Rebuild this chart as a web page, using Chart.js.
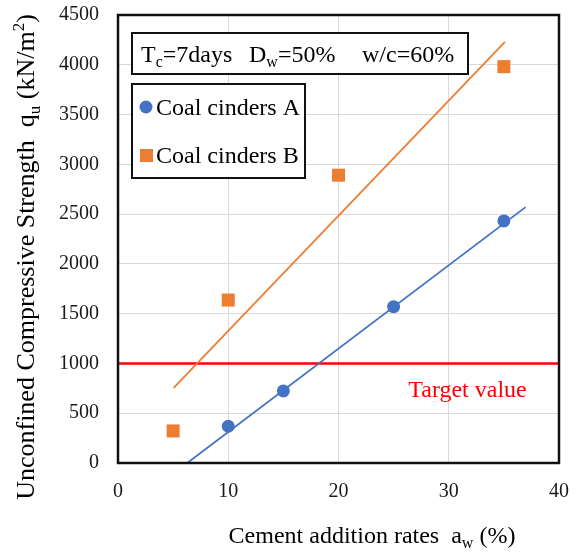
<!DOCTYPE html>
<html>
<head>
<meta charset="utf-8">
<script src="https://cdn.jsdelivr.net/npm/chart.js@4.4.1/dist/chart.umd.min.js"></script>
<style>
  html, body { margin: 0; padding: 0; background: #ffffff; }
  #wrap { width: 577px; height: 556px; position: relative; }
</style>
</head>
<body>
<div id="wrap"><canvas id="chart" width="577" height="556"></canvas></div>
<script>
// Cement addition rate (%) and 7-day unconfined compressive strength (kN/m2)
const ratesA = [10, 15, 25, 35];
const strengthA = [369, 724, 1570, 2432];
const ratesB = [5, 10, 20, 35];
const strengthB = [322, 1637, 2891, 3981];

// Linear trend lines (end points)
const trendAX = [6.28, 36.97];
const trendAY = [0, 2570];
const trendBX = [5.05, 35.1];
const trendBY = [755, 4230];

// Target strength
const targetX = [0, 40];
const targetStrength = 1000;
const targetLabelAt = [31.7, 730];

const xTicks = [0, 10, 20, 30, 40];
const yTicks = [0, 500, 1000, 1500, 2000, 2500, 3000, 3500, 4000, 4500];

const BLUE = '#4472C4';
const ORANGE = '#ED7D31';
const RED = '#FF0000';
const SERIF = '"Liberation Serif", "Times New Roman", serif';

const pts = (xs, ys) => xs.map((x, i) => ({ x: x, y: ys[i] }));

// Draw a run of text pieces, some of which are subscripts or superscripts
function richText(ctx, parts, x, y, size, color, align) {
  ctx.save();
  ctx.fillStyle = color;
  ctx.textBaseline = 'alphabetic';
  ctx.textAlign = 'left';
  const small = Math.round(size * 0.66);
  let total = 0;
  parts.forEach(p => {
    ctx.font = (p.sub || p.sup ? small : size) + 'px ' + SERIF;
    total += ctx.measureText(p.t).width;
  });
  let cx = align === 'center' ? x - total / 2 : x;
  parts.forEach(p => {
    ctx.font = (p.sub || p.sup ? small : size) + 'px ' + SERIF;
    let dy = 0;
    if (p.sub) dy = size * 0.22;
    if (p.sup) dy = -size * 0.38;
    ctx.fillText(p.t, cx, y + dy);
    cx += ctx.measureText(p.t).width;
  });
  ctx.restore();
}

const decorations = {
  id: 'decorations',
  afterDatasetsDraw(chart) {
    const ctx = chart.ctx;
    const a = chart.chartArea;
    const xs = chart.scales.x, ys = chart.scales.y;

    // Target label
    ctx.save();
    ctx.font = '24px ' + SERIF;
    ctx.fillStyle = RED;
    ctx.textAlign = 'center';
    ctx.textBaseline = 'middle';
    ctx.fillText('Target value', xs.getPixelForValue(targetLabelAt[0]), ys.getPixelForValue(targetLabelAt[1]));
    ctx.restore();

    // Plot frame
    ctx.save();
    ctx.strokeStyle = '#111';
    ctx.lineWidth = 2.5;
    ctx.strokeRect(a.left, a.top, a.right - a.left, a.bottom - a.top);
    ctx.restore();

    // Condition box
    ctx.save();
    ctx.fillStyle = '#fff';
    ctx.fillRect(132, 33, 336, 41);
    ctx.strokeStyle = '#111';
    ctx.lineWidth = 2;
    ctx.strokeRect(132, 33, 336, 41);
    ctx.restore();
    richText(ctx, [{ t: 'T' }, { t: 'c', sub: true }, { t: '=7days' }], 141, 62, 24, '#000', 'left');
    richText(ctx, [{ t: 'D' }, { t: 'w', sub: true }, { t: '=50%' }], 249, 62, 24, '#000', 'left');
    richText(ctx, [{ t: 'w/c=60%' }], 362, 62, 24, '#000', 'left');

    // Legend box
    ctx.save();
    ctx.fillStyle = '#fff';
    ctx.fillRect(132, 84, 173, 94);
    ctx.strokeStyle = '#111';
    ctx.lineWidth = 2;
    ctx.strokeRect(132, 84, 173, 94);
    ctx.fillStyle = BLUE;
    ctx.beginPath();
    ctx.arc(146, 107, 6.5, 0, Math.PI * 2);
    ctx.fill();
    ctx.fillStyle = ORANGE;
    ctx.fillRect(140, 149, 13, 13);
    ctx.restore();
    richText(ctx, [{ t: 'Coal cinders A' }], 156, 115, 24, '#000', 'left');
    richText(ctx, [{ t: 'Coal cinders B' }], 156, 163, 24, '#000', 'left');

    // Axis titles
    richText(ctx, [{ t: 'Cement addition rates  a' }, { t: 'w', sub: true }, { t: ' (%)' }], 372, 543, 24, '#000', 'center');
    ctx.save();
    ctx.translate(34, 257);
    ctx.rotate(-Math.PI / 2);
    richText(ctx, [{ t: 'Unconfined Compressive Strength  q' }, { t: 'u', sub: true }, { t: ' (kN/m' }, { t: '2', sup: true }, { t: ')' }], 0, 0, 26, '#000', 'center');
    ctx.restore();
  }
};

new Chart(document.getElementById('chart'), {
  type: 'scatter',
  data: {
    datasets: [
      {
        label: 'Target', data: pts(targetX, targetX.map(() => targetStrength)),
        showLine: true, borderColor: RED, borderWidth: 2.5, pointRadius: 0, order: 3
      },
      {
        label: 'Trend A', data: pts(trendAX, trendAY),
        showLine: true, borderColor: BLUE, borderWidth: 1.8, pointRadius: 0, order: 2
      },
      {
        label: 'Trend B', data: pts(trendBX, trendBY),
        showLine: true, borderColor: ORANGE, borderWidth: 1.8, pointRadius: 0, order: 2
      },
      {
        label: 'Coal cinders A', data: pts(ratesA, strengthA),
        pointStyle: 'circle', pointRadius: 6.5, backgroundColor: BLUE, borderColor: BLUE, borderWidth: 0, order: 1
      },
      {
        label: 'Coal cinders B', data: pts(ratesB, strengthB),
        pointStyle: 'rect', pointRadius: 9.2, backgroundColor: ORANGE, borderColor: ORANGE, borderWidth: 0, order: 1
      }
    ]
  },
  options: {
    responsive: false,
    animation: false,
    layout: { padding: { left: 0, top: 15, right: 0, bottom: 0 } },
    plugins: { legend: { display: false }, tooltip: { enabled: false } },
    scales: {
      x: {
        type: 'linear', min: 0, max: 40,
        afterBuildTicks: s => { s.ticks = xTicks.map(v => ({ value: v })); },
        afterFit: s => { s.height = 93; s.paddingLeft = 0; s.paddingRight = 18; },
        grid: { color: '#d9d9d9', lineWidth: 1, drawTicks: false },
        border: { display: false },
        ticks: { padding: 17, color: '#1a1a1a', font: { family: SERIF, size: 20 }, callback: v => String(v) }
      },
      y: {
        type: 'linear', min: 0, max: 4500,
        afterBuildTicks: s => { s.ticks = yTicks.map(v => ({ value: v })); },
        afterFit: s => { s.width = 118; s.paddingTop = 0; s.paddingBottom = 0; },
        grid: { color: '#d9d9d9', lineWidth: 1, drawTicks: false },
        border: { display: false },
        ticks: { padding: 19, color: '#1a1a1a', font: { family: SERIF, size: 20 }, callback: v => String(v) }
      }
    }
  },
  plugins: [decorations]
});
</script>
</body>
</html>
